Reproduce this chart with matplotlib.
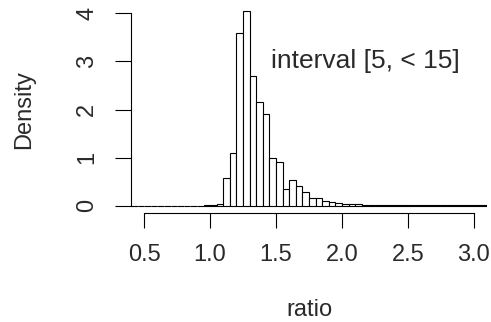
import matplotlib.pyplot as plt
import numpy as np

# histogram of ratio, bins of width 0.05
bin_width = 0.05
first_edge = 0.40
density = [
    0, 0, 0, 0, 0, 0, 0, 0, 0, 0, 0,           # 0.40 - 0.95
    0.02, 0.02, 0.03,                          # 0.95 - 1.10
    0.57, 1.09, 3.58, 4.05, 2.70, 2.15, 1.91,  # 1.10 - 1.45
    1.00, 0.91, 0.34, 0.53, 0.42, 0.28, 0.17,  # 1.45 - 1.80
    0.15, 0.10, 0.08, 0.06,                    # 1.80 - 2.00
    0.04, 0.03, 0.03, 0.02, 0.02, 0.02, 0.02, 0.02, 0.02, 0.02, 0.02, 0.02,
    0.01, 0.01, 0.01, 0.01, 0.01, 0.01, 0.01, 0.01, 0.01, 0.01, 0.01,  # 2.00 - 3.15
]
x_ticks = [0.5, 1.0, 1.5, 2.0, 2.5, 3.0]
x_labels = ["0.5", "1.0", "1.5", "2.0", "2.5", "3.0"]
y_ticks = [0, 1, 2, 3, 4]
y_labels = ["0", "1", "2", "3", "4"]
note = "interval [5, < 15]"

plt.rcParams['font.family'] = ['Liberation Sans', 'DejaVu Sans']
plt.rcParams['font.size'] = 17
txt_color = '#2a2a2a'

W, H = 491, 322
fig = plt.figure(figsize=(W / 100, H / 100), dpi=100)
# plot region in pixels: x 131..487, y 5.6..213.4 (from top)
ax = fig.add_axes([131 / W, 1 - 213.4 / H, (487 - 131) / W, (213.4 - 5.6) / H])

lefts = first_edge + bin_width * np.arange(len(density))
ax.bar(lefts, density, width=bin_width, align='edge',
       facecolor='white', edgecolor='black', linewidth=0.8)

ax.set_xlim(0.4, 3.1)
ax.set_ylim(-0.16, 4.16)

for side in ['top', 'right']:
    ax.spines[side].set_visible(False)
ax.spines['left'].set_bounds(0, 4)
ax.spines['bottom'].set_bounds(0.5, 3.0)
for side in ['left', 'bottom']:
    ax.spines[side].set_linewidth(0.8)

ax.set_xticks(x_ticks)
ax.set_xticklabels(x_labels)
ax.set_yticks(y_ticks)
ax.set_yticklabels(y_labels, rotation=90, va='center')
ax.tick_params(axis='x', length=11, width=0.8, pad=11)
ax.tick_params(axis='y', length=11.5, width=0.8, pad=12)
for lab in ax.get_xticklabels() + ax.get_yticklabels():
    lab.set_color(txt_color)

ax.text(1.46, 3.0, note, ha='left', va='center', color=txt_color, fontsize=19)

fig.text(24 / W, 1 - 109.5 / H, "Density", rotation=90,
         ha='center', va='center', color=txt_color)
fig.text(309 / W, 1 - 316.5 / H, "ratio", ha='center', va='baseline',
         color=txt_color)

fig.savefig("out.png", dpi=100)
